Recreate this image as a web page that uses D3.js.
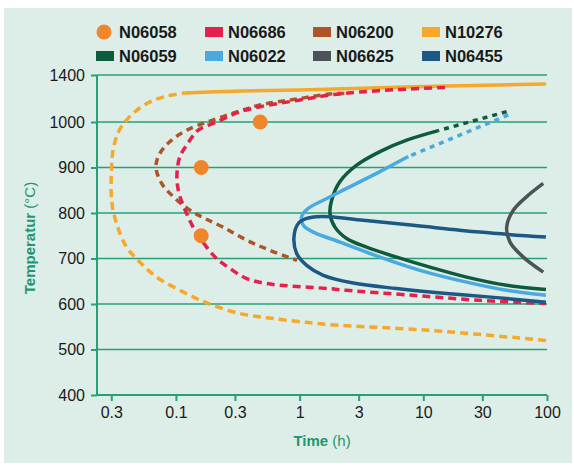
<!DOCTYPE html>
<html>
<head>
<meta charset="utf-8">
<script src="https://cdn.jsdelivr.net/npm/d3@7/dist/d3.min.js"></script>
<style>
  html, body { margin: 0; padding: 0; background: #ffffff; }
  svg { display: block; }
  text { font-family: "Liberation Sans", Arial, sans-serif; }
</style>
</head>
<body>
<svg id="chart" width="574" height="466"></svg>
<script>
// ---------- DATA ----------
const xTickValues = [0.03, 0.1, 0.3, 1, 3, 10, 30, 100];
const xTickLabels = ["0.3", "0.1", "0.3", "1", "3", "10", "30", "100"];
const yTickValues = [400, 500, 600, 700, 800, 900, 1000, 1400];
const yTickLabels = ["400", "500", "600", "700", "800", "900", "1000", "1400"];

const legendNames  = ["N06058", "N06686", "N06200", "N10276", "N06059", "N06022", "N06625", "N06455"];
const legendColors = ["#f0862a", "#e5204a", "#ad5428", "#f5a82a", "#0d5a3c", "#4aa9de", "#4c5358", "#1c5884"];
const legendShapes = ["circle", "rect", "rect", "rect", "rect", "rect", "rect", "rect"];

// [time (h), temperature (°C)]
const n06058Points = [[0.48, 1000], [0.16, 900], [0.16, 750]];

const n10276Dashed = [[98, 520], [11.3, 542], [1.7, 555], [0.946, 562], [0.541, 570], [0.329, 579], [0.2, 597],
  [0.147, 612], [0.101, 634], [0.0698, 659], [0.0512, 692], [0.0399, 725], [0.0331, 777], [0.0302, 828],
  [0.0302, 901], [0.031, 938], [0.034, 976], [0.0387, 1000], [0.0484, 1102], [0.064, 1179], [0.0846, 1221],
  [0.118, 1247]];
const n10276Solid = [[0.118, 1247], [0.3, 1262], [1, 1272], [10, 1302], [98, 1323]];

const n06200Dashed = [[2.3, 1243], [1.76, 1238], [1.006, 1200], [0.478, 1145], [0.3096, 1085], [0.1883, 1008],
  [0.122, 982], [0.0894, 957], [0.0742, 931], [0.0689, 902], [0.0766, 865], [0.0951, 836], [0.1298, 806],
  [0.1715, 788], [0.24, 769], [0.375, 740], [0.5755, 718], [0.9515, 696]];

const n06686Dashed = [[14.97, 1294], [6.48, 1277], [3.075, 1255], [1.76, 1230], [1.006, 1187], [0.478, 1130],
  [0.3096, 1077], [0.2132, 1000], [0.1513, 982], [0.122, 949], [0.1077, 924], [0.1024, 894], [0.1024, 865],
  [0.1077, 836], [0.122, 799], [0.1424, 762], [0.177, 725], [0.2132, 700], [0.2733, 678], [0.373, 656],
  [0.541, 645], [0.888, 639], [1.7, 634], [2.4, 630], [8.29, 619], [28.7, 608], [98, 601]];

const n06059Dotted = [[47.2, 1088], [13.2, 981]];
const n06059Solid = [[13.2, 981], [7.34, 960], [4.46, 935], [2.89, 905], [2.12, 869], [1.815, 828], [1.76, 799],
  [1.93, 769], [2.4, 744], [3.48, 725], [6.09, 703], [11.3, 681], [22.4, 659], [47.2, 641], [98, 632]];

const n06022Dotted = [[48.6, 1060], [7.56, 924]];
const n06022Solid = [[7.56, 924], [4.46, 891], [2.4, 854], [1.553, 828], [1.174, 810], [1.038, 792], [1.07, 773],
  [1.289, 758], [2.12, 736], [4.46, 703], [9.4, 674], [22.4, 648], [47.2, 630], [98, 619]];

const n06455Solid = [[98, 747], [28.7, 758], [8.29, 773], [3.27, 784], [1.76, 792], [1.373, 792], [1.14, 788],
  [0.975, 777], [0.9, 747], [0.946, 711], [1.14, 685], [1.553, 663], [2.72, 646], [6.09, 634], [15.45, 623],
  [39.2, 614], [98, 604]];

const n06625Solid = [[93.3, 865], [68.5, 836], [53.4, 806], [47.2, 769], [50.2, 736], [64.3, 703], [93.3, 670]];

// ---------- CHART ----------
const svg = d3.select("#chart");
const green = "#27a078";
const textGreen = "#1f9570";

svg.append("rect").attr("x", 4).attr("y", 8).attr("width", 568).attr("height", 455).attr("fill", "#ddeee9");

const x = d3.scaleLog().domain([0.023, 100]).range([97, 547]);
const y = d3.scaleLinear().domain([400, 1000, 1400]).range([395, 122, 75]);

// gridlines
svg.append("g").selectAll("line").data(yTickValues.slice(1)).join("line")
  .attr("x1", 97).attr("x2", 547)
  .attr("y1", d => y(d)).attr("y2", d => y(d))
  .attr("stroke", green).attr("stroke-width", 1.4);

// axes
const yAxis = svg.append("g").attr("transform", "translate(97,0)")
  .call(d3.axisLeft(y).tickValues(yTickValues).tickFormat((d, i) => yTickLabels[i]).tickSize(6).tickPadding(6));
const xAxis = svg.append("g").attr("transform", "translate(0,395)")
  .call(d3.axisBottom(x).tickValues(xTickValues).tickFormat((d, i) => xTickLabels[i]).tickSize(6).tickPadding(6));
[yAxis, xAxis].forEach(a => {
  a.select(".domain").attr("stroke", green).attr("stroke-width", 2);
  a.selectAll(".tick line").attr("stroke", green).attr("stroke-width", 2);
  a.selectAll(".tick text").attr("fill", "#1a1a1a").attr("font-size", 16)
    .attr("font-family", "'Liberation Sans', Arial, sans-serif");
});
yAxis.select(".domain").attr("d", `M-0,${y(1400)}V${y(400)}`);
xAxis.select(".domain").attr("d", `M${x(0.023)},0H${x(100)}`);

// axis titles
const xt = svg.append("text").attr("x", 322).attr("y", 446).attr("text-anchor", "middle")
  .attr("font-size", 15).attr("fill", textGreen);
xt.append("tspan").attr("font-weight", "bold").text("Time");
xt.append("tspan").text(" (h)");

const yt = svg.append("text").attr("transform", "translate(35,238) rotate(-90)").attr("text-anchor", "middle")
  .attr("font-size", 15).attr("fill", textGreen);
yt.append("tspan").attr("font-weight", "bold").text("Temperatur");
yt.append("tspan").text(" (°C)");

// lines
const line = d3.line().x(d => x(d[0])).y(d => y(d[1])).curve(d3.curveCatmullRom.alpha(0.5));
function draw(data, color, dash, width) {
  svg.append("path").datum(data).attr("d", line)
    .attr("fill", "none").attr("stroke", color).attr("stroke-width", width || 3.5)
    .attr("stroke-dasharray", dash || null).attr("stroke-linecap", "butt");
}
const col = name => legendColors[legendNames.indexOf(name)];

draw(n10276Dashed, col("N10276"), "8,5");
draw(n10276Solid, col("N10276"));
draw(n06200Dashed, col("N06200"), "7,5");
draw(n06686Dashed, col("N06686"), "8,5");
draw(n06059Solid, col("N06059"));
draw(n06059Dotted, col("N06059"), "5,5");
draw(n06022Solid, col("N06022"));
draw(n06022Dotted, col("N06022"), "5,5");
draw(n06455Solid, col("N06455"));
draw(n06625Solid, col("N06625"));

svg.append("g").selectAll("circle").data(n06058Points).join("circle")
  .attr("cx", d => x(d[0])).attr("cy", d => y(d[1])).attr("r", 7.5).attr("fill", col("N06058"));

// legend
const legX = [96, 205, 313, 422];
const legY = [32, 56];
const leg = svg.append("g").selectAll("g").data(legendNames).join("g")
  .attr("transform", (d, i) => `translate(${legX[i % 4]},${legY[Math.floor(i / 4)]})`);
leg.each(function (d, i) {
  const g = d3.select(this);
  if (legendShapes[i] === "circle") {
    g.append("circle").attr("cx", 8).attr("cy", 0).attr("r", 7.5).attr("fill", legendColors[i]);
  } else {
    g.append("rect").attr("x", 0).attr("y", -5).attr("width", 18).attr("height", 10).attr("fill", legendColors[i]);
  }
  g.append("text").attr("x", 23).attr("y", 6).attr("font-size", 16.5).attr("font-weight", "bold")
    .attr("fill", "#1a1a1a").text(d);
});
</script>
</body>
</html>
